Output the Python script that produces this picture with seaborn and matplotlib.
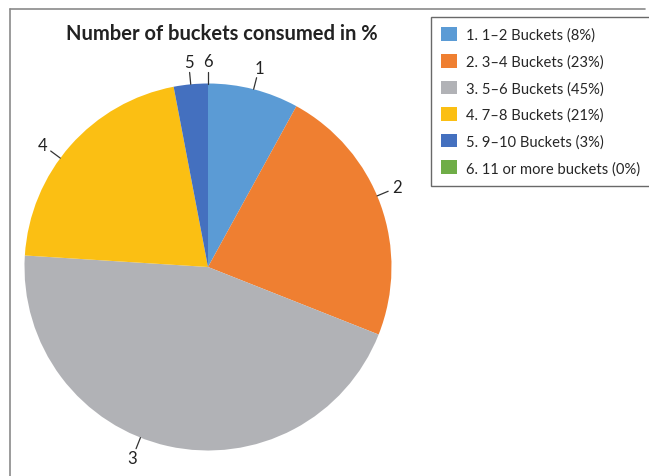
import numpy as np
import matplotlib.pyplot as plt
import seaborn as sns

# data
slice_ids = ["1", "2", "3", "4", "5", "6"]
legend_labels = ["1. 1\u20132 Buckets (8%)", "2. 3\u20134 Buckets (23%)", "3. 5\u20136 Buckets (45%)",
                 "4. 7\u20138 Buckets (21%)", "5. 9\u201310 Buckets (3%)", "6. 11 or more buckets (0%)"]
shares = [8, 23, 45, 21, 3, 0]
colors = ["#5B9BD5", "#EF7F31", "#B1B2B6", "#FBBF13", "#4470BF", "#6FAD47"]
# small angle nudges (deg) for the outside labels, like Excel's best fit
nudge = [0, 3, -9, 5, 0, 0]

sns.set_style("white")
plt.rcParams["font.family"] = ["Lato", "DejaVu Sans"]

W, H = 649, 477
fig = plt.figure(figsize=(W / 100, H / 100), dpi=100)

# outer chart frame (top and left edges visible)
fig.add_artist(plt.Line2D([10 / W, 10 / W], [0, 1 - 10 / H], transform=fig.transFigure, color="#8a8a8a", lw=1.2))
fig.add_artist(plt.Line2D([10 / W, 645 / W], [1 - 10 / H, 1 - 10 / H], transform=fig.transFigure, color="#8a8a8a", lw=1.2))

cx, cy, r = 208, 268, 183.5
ax = fig.add_axes([(cx - r) / W, (H - cy - r) / H, 2 * r / W, 2 * r / H])
wedges, _ = ax.pie(shares, colors=colors, startangle=90, counterclock=False,
                   wedgeprops=dict(linewidth=0))
ax.set_xlim(-1, 1)
ax.set_ylim(-1, 1)
ax.set_aspect("equal")
ax.axis("off")

# outside labels with short leader lines
for w, lab, dn in zip(wedges, slice_ids, nudge):
    ang = np.deg2rad((w.theta1 + w.theta2) / 2 + dn)
    x, y = np.cos(ang), np.sin(ang)
    ax.plot([x * 1.0, x * 1.065], [y * 1.0, y * 1.065], color="#333333", lw=0.9, clip_on=False)
    ax.text(x * 1.12, y * 1.12, lab, ha="center", va="center", fontsize=12, color="#222222")

fig.text(222 / W, 1 - 34 / H, "Number of buckets consumed in %", ha="center", va="center",
         fontsize=14.5, fontweight="bold", color="#222222")

leg = fig.legend(wedges, legend_labels, loc="upper left", bbox_to_anchor=(431 / W, 1 - 18 / H),
                 frameon=True, fancybox=False, fontsize=10.6, handlelength=1.05, handleheight=1.05,
                 labelspacing=0.8, borderpad=0.7, handletextpad=0.6, borderaxespad=0)
leg.get_frame().set_edgecolor("#444444")
leg.get_frame().set_linewidth(1.0)

plt.savefig("out.png", dpi=100)
